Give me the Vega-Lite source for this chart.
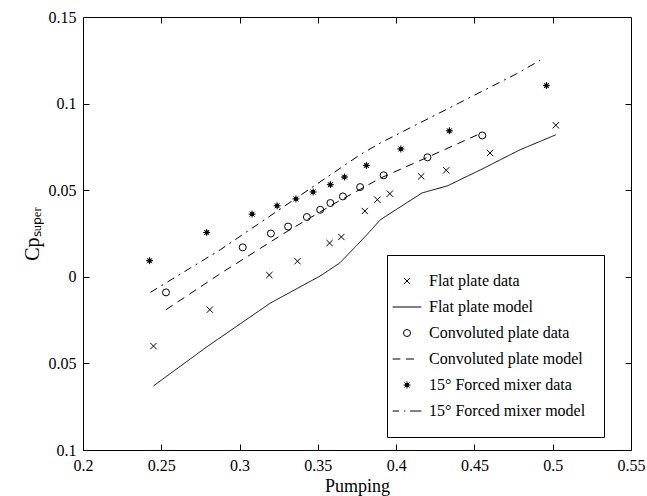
{
  "$schema": "https://vega.github.io/schema/vega-lite/v6.json",
  "width": 548,
  "height": 433,
  "autosize": {"type": "none"},
  "padding": {"left": 83, "top": 17, "right": 16, "bottom": 46},
  "background": "white",
  "config": {
    "font": "Liberation Serif",
    "view": {"stroke": "black", "strokeWidth": 1},
    "axis": {
      "grid": false,
      "domain": false,
      "labelFont": "Liberation Serif",
      "labelFontSize": 16,
      "labelColor": "black",
      "titleFont": "Liberation Serif",
      "titleColor": "black",
      "titleFontWeight": "normal"
    }
  },
  "datasets": {
    "pts": [
      {"series": "Flat plate data", "pumping": 0.245, "cp": -0.040},
      {"series": "Flat plate data", "pumping": 0.281, "cp": -0.019},
      {"series": "Flat plate data", "pumping": 0.319, "cp": 0.001},
      {"series": "Flat plate data", "pumping": 0.337, "cp": 0.009},
      {"series": "Flat plate data", "pumping": 0.3575, "cp": 0.0195},
      {"series": "Flat plate data", "pumping": 0.365, "cp": 0.023},
      {"series": "Flat plate data", "pumping": 0.380, "cp": 0.038},
      {"series": "Flat plate data", "pumping": 0.388, "cp": 0.0445},
      {"series": "Flat plate data", "pumping": 0.396, "cp": 0.048},
      {"series": "Flat plate data", "pumping": 0.416, "cp": 0.058},
      {"series": "Flat plate data", "pumping": 0.432, "cp": 0.0615},
      {"series": "Flat plate data", "pumping": 0.460, "cp": 0.0715},
      {"series": "Flat plate data", "pumping": 0.502, "cp": 0.0875},
      {"series": "Convoluted plate data", "pumping": 0.253, "cp": -0.009},
      {"series": "Convoluted plate data", "pumping": 0.302, "cp": 0.017},
      {"series": "Convoluted plate data", "pumping": 0.320, "cp": 0.025},
      {"series": "Convoluted plate data", "pumping": 0.331, "cp": 0.029},
      {"series": "Convoluted plate data", "pumping": 0.343, "cp": 0.0345},
      {"series": "Convoluted plate data", "pumping": 0.3515, "cp": 0.0387},
      {"series": "Convoluted plate data", "pumping": 0.358, "cp": 0.0426},
      {"series": "Convoluted plate data", "pumping": 0.366, "cp": 0.0464},
      {"series": "Convoluted plate data", "pumping": 0.377, "cp": 0.0518},
      {"series": "Convoluted plate data", "pumping": 0.392, "cp": 0.0586},
      {"series": "Convoluted plate data", "pumping": 0.420, "cp": 0.069},
      {"series": "Convoluted plate data", "pumping": 0.455, "cp": 0.0816},
      {"series": "15° Forced mixer data", "pumping": 0.2425, "cp": 0.0093},
      {"series": "15° Forced mixer data", "pumping": 0.279, "cp": 0.0256},
      {"series": "15° Forced mixer data", "pumping": 0.308, "cp": 0.0362},
      {"series": "15° Forced mixer data", "pumping": 0.324, "cp": 0.041},
      {"series": "15° Forced mixer data", "pumping": 0.336, "cp": 0.045},
      {"series": "15° Forced mixer data", "pumping": 0.347, "cp": 0.049},
      {"series": "15° Forced mixer data", "pumping": 0.358, "cp": 0.0532},
      {"series": "15° Forced mixer data", "pumping": 0.367, "cp": 0.0576},
      {"series": "15° Forced mixer data", "pumping": 0.381, "cp": 0.0643},
      {"series": "15° Forced mixer data", "pumping": 0.403, "cp": 0.0738},
      {"series": "15° Forced mixer data", "pumping": 0.434, "cp": 0.0843},
      {"series": "15° Forced mixer data", "pumping": 0.496, "cp": 0.1104}
    ],
    "lines": [
      {"series": "Flat plate model", "pumping": 0.245, "cp": -0.063},
      {"series": "Flat plate model", "pumping": 0.279, "cp": -0.0405},
      {"series": "Flat plate model", "pumping": 0.3196, "cp": -0.0152},
      {"series": "Flat plate model", "pumping": 0.3515, "cp": 0.0005},
      {"series": "Flat plate model", "pumping": 0.364, "cp": 0.008},
      {"series": "Flat plate model", "pumping": 0.380, "cp": 0.023},
      {"series": "Flat plate model", "pumping": 0.390, "cp": 0.033},
      {"series": "Flat plate model", "pumping": 0.4165, "cp": 0.0484},
      {"series": "Flat plate model", "pumping": 0.433, "cp": 0.0526},
      {"series": "Flat plate model", "pumping": 0.454, "cp": 0.0618},
      {"series": "Flat plate model", "pumping": 0.4793, "cp": 0.0734},
      {"series": "Flat plate model", "pumping": 0.502, "cp": 0.082},
      {"series": "Convoluted plate model", "pumping": 0.253, "cp": -0.019},
      {"series": "Convoluted plate model", "pumping": 0.288, "cp": 0.002},
      {"series": "Convoluted plate model", "pumping": 0.330, "cp": 0.026},
      {"series": "Convoluted plate model", "pumping": 0.360, "cp": 0.042},
      {"series": "Convoluted plate model", "pumping": 0.390, "cp": 0.057},
      {"series": "Convoluted plate model", "pumping": 0.420, "cp": 0.069},
      {"series": "Convoluted plate model", "pumping": 0.452, "cp": 0.082},
      {"series": "15° Forced mixer model", "pumping": 0.243, "cp": -0.009},
      {"series": "15° Forced mixer model", "pumping": 0.2877, "cp": 0.0156},
      {"series": "15° Forced mixer model", "pumping": 0.377, "cp": 0.0705},
      {"series": "15° Forced mixer model", "pumping": 0.390, "cp": 0.0773},
      {"series": "15° Forced mixer model", "pumping": 0.4771, "cp": 0.1173},
      {"series": "15° Forced mixer model", "pumping": 0.492, "cp": 0.125}
    ]
  },
  "layer": [
    {
      "data": {"name": "lines"},
      "mark": {"type": "line", "color": "black", "strokeWidth": 1},
      "encoding": {
        "x": {
          "field": "pumping", "type": "quantitative",
          "scale": {"domain": [0.2, 0.55], "nice": false, "zero": false},
          "axis": {"orient": "top", "labels": false, "title": null,
                   "ticks": true, "tickSize": -6, "tickColor": "black", "tickWidth": 1,
                   "values": [0.25, 0.3, 0.35, 0.4, 0.45, 0.5]}
        },
        "y": {
          "field": "cp", "type": "quantitative",
          "scale": {"domain": [-0.1, 0.15], "nice": false, "zero": false},
          "axis": {"orient": "right", "labels": false, "title": null,
                   "ticks": true, "tickSize": -6, "tickColor": "black", "tickWidth": 1,
                   "values": [-0.05, 0, 0.05, 0.1]}
        },
        "detail": {"field": "series"},
        "strokeDash": {
          "field": "series", "type": "nominal",
          "scale": {
            "domain": ["Flat plate model", "Convoluted plate model", "15° Forced mixer model"],
            "range": [[1, 0], [8, 6], [8, 5, 2, 5]]
          },
          "legend": null
        }
      }
    },
    {
      "data": {"name": "pts"},
      "mark": {"type": "point", "filled": false, "stroke": "black", "strokeWidth": 1, "size": 49, "opacity": 1},
      "encoding": {
        "x": {
          "field": "pumping", "type": "quantitative",
          "axis": {
            "orient": "bottom", "title": "Pumping", "titleFontSize": 18, "titlePadding": 4,
            "ticks": true, "tickSize": -6, "tickColor": "black", "tickWidth": 1,
            "values": [0.25, 0.3, 0.35, 0.4, 0.45, 0.5, 0.2, 0.55],
            "labelExpr": "'' + datum.value", "labelPadding": 13, "labelFlush": false
          }
        },
        "y": {
          "field": "cp", "type": "quantitative",
          "axis": {
            "orient": "left", "title": "Cpₛᵤₚₑᵣ", "titleFontSize": 20, "titlePadding": 6,
            "ticks": true, "tickSize": -6, "tickColor": "black", "tickWidth": 1,
            "values": [-0.1, -0.05, 0, 0.05, 0.1, 0.15],
            "labelExpr": "'' + abs(datum.value)", "labelPadding": 13, "labelFlush": false
          }
        },
        "shape": {
          "field": "series", "type": "nominal",
          "scale": {
            "domain": ["Flat plate data", "Flat plate model", "Convoluted plate data", "Convoluted plate model", "15° Forced mixer data", "15° Forced mixer model"],
            "range": [
              "M-0.9,-0.9L0.9,0.9M-0.9,0.9L0.9,-0.9",
              "M-4.1,0L4.1,0",
              "circle",
              "M-4.1,0L-1.9,0M-0.3,0L2.0,0",
              "M-1,0L1,0M0,-1L0,1M-0.71,-0.71L0.71,0.71M-0.71,0.71L0.71,-0.71M-0.4,-0.4L0.4,-0.4L0.4,0.4L-0.4,0.4Z",
              "M-4.1,0L-2.3,0M-0.9,0L-0.5,0M0.9,0L4.1,0"
            ]
          },
          "legend": {
            "title": null,
            "orient": "none",
            "legendX": 304,
            "legendY": 238,
            "strokeColor": "black",
            "fillColor": "white",
            "padding": 18,
            "labelFont": "Liberation Serif",
            "labelFontSize": 16,
            "labelColor": "black",
            "symbolSize": 49,
            "symbolStrokeColor": "black",
            "symbolFillColor": "transparent",
            "symbolStrokeWidth": 1,
            "symbolOffset": -6,
            "labelOffset": 14,
            "rowPadding": 10
          }
        }
      }
    }
  ],
  "resolve": {"axis": {"x": "independent", "y": "independent"}}
}
